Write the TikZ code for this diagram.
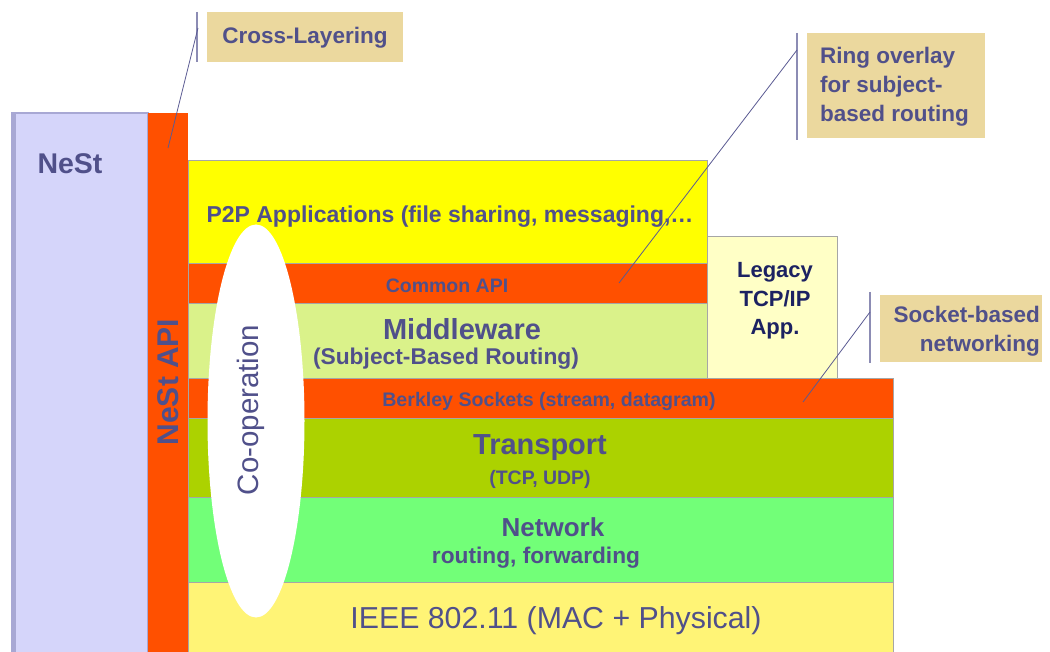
\documentclass[tikz,border=0pt]{standalone}
\usepackage{fontspec}
\setmainfont{Liberation Sans}
\usetikzlibrary{shapes.geometric}
\definecolor{txt}{HTML}{50508A}
\definecolor{legtxt}{HTML}{1C2262}
\definecolor{nestfill}{HTML}{D5D5FA}
\definecolor{nestedge}{HTML}{A8A8D4}
\definecolor{apired}{HTML}{FF5000}
\definecolor{notefill}{HTML}{EBD89E}
\definecolor{p2pfill}{HTML}{FFFF00}
\definecolor{midfill}{HTML}{DAF28A}
\definecolor{legfill}{HTML}{FFFFC6}
\definecolor{trafill}{HTML}{ACD200}
\definecolor{netfill}{HTML}{72FF78}
\definecolor{macfill}{HTML}{FFF476}
\definecolor{leadcol}{HTML}{5A5A92}
\definecolor{barcol}{HTML}{8C8CB4}
\tikzset{
  layer/.style={draw=black!35, line width=0.8pt, anchor=north west, inner sep=0pt, outer sep=0pt},
  notebox/.style={fill=notefill, anchor=north west, inner sep=0pt, outer sep=0pt},
  lbl/.style={text=txt, font=\bfseries\fontsize{22.5}{29}\selectfont, inner sep=0pt, align=center},
  lead/.style={draw=leadcol, line width=0.8pt},
  notebar/.style={draw=barcol, line width=1.5pt},
}
\begin{document}
\begin{tikzpicture}[x=1pt,y=-1pt]
\useasboundingbox (0,0) rectangle (1050,652);
\fill[white] (0,0) rectangle (1050,652);
% NeSt column and NeSt API bar
\node[layer, draw=nestedge, line width=1.2pt, fill=nestfill, minimum width=136pt, minimum height=545pt] (nest) at (12,113) {};
\fill[nestedge] (12,113) rectangle (16,652);
\node[layer, draw=none, fill=apired, minimum width=40pt, minimum height=545pt] (nestapi) at (148,113) {};
% layers
\node[layer, fill=p2pfill, minimum width=519pt, minimum height=103pt] (p2p) at (188,160) {};
\node[layer, fill=apired, minimum width=519pt, minimum height=40pt] (common) at (188,263) {};
\node[layer, fill=midfill, minimum width=519pt, minimum height=78pt] (middle) at (188,303) {};
\node[layer, fill=legfill, minimum width=130pt, minimum height=142pt] (legacy) at (707,236) {};
\node[layer, fill=apired, minimum width=705pt, minimum height=40pt] (berkley) at (188,378) {};
\node[layer, fill=trafill, minimum width=705pt, minimum height=79pt] (transport) at (188,418) {};
\node[layer, fill=netfill, minimum width=705pt, minimum height=85pt] (network) at (188,497) {};
\node[layer, fill=macfill, minimum width=705pt, minimum height=75pt] (mac) at (188,582) {};
% co-operation ellipse
\node[ellipse, fill=white, inner sep=0pt, minimum width=97pt, minimum height=393pt] (coop) at (256,421) {};
% texts
\node[lbl, font=\bfseries\fontsize{28.5}{34}\selectfont] (nestt) at (70,164) {NeSt};
\node[lbl, font=\bfseries\fontsize{30}{36}\selectfont, rotate=90] (nestapit) at (168,382) {NeSt API};
\node[lbl, font=\fontsize{29.5}{34}\selectfont, rotate=90] (coopt) at (251,410) {Co-operation};
\node[lbl, font=\bfseries\fontsize{23}{29}\selectfont] (p2pt) at (450,217) {P2P Applications (file sharing, messaging,…};
\node[lbl, font=\bfseries\fontsize{19.5}{24}\selectfont] (commont) at (447,286) {Common API};
\node[lbl, font=\bfseries\fontsize{29}{34}\selectfont] (midt1) at (462,329) {Middleware};
\node[lbl, font=\bfseries\fontsize{22.8}{28}\selectfont] (midt2) at (446,359) {(Subject-Based Routing)};
\node[lbl, text=legtxt, font=\bfseries\fontsize{22}{28.5}\selectfont] (legt) at (775,301) {Legacy\\TCP/IP\\App.};
\node[lbl, font=\bfseries\fontsize{19.6}{24}\selectfont] (berkt) at (549,401) {Berkley Sockets (stream, datagram)};
\node[lbl, font=\bfseries\fontsize{29}{34}\selectfont] (trat1) at (540,448) {Transport};
\node[lbl, font=\bfseries\fontsize{19.5}{24}\selectfont] (trat2) at (540,479) {(TCP, UDP)};
\node[lbl, font=\bfseries\fontsize{26}{31}\selectfont] (nett1) at (553,527) {Network};
\node[lbl, font=\bfseries\fontsize{22.7}{28}\selectfont] (nett2) at (536,558) {routing, forwarding};
\node[lbl, font=\fontsize{30.3}{36}\selectfont] (mact) at (556,621) {IEEE 802.11 (MAC + Physical)};
% notes
\node[notebox, minimum width=196pt, minimum height=50pt] (cross) at (207,12) {};
\node[lbl] (crosst) at ([yshift=-1pt]cross.center) {Cross-Layering};
\node[notebox, minimum width=178pt, minimum height=105pt] (ring) at (807,33) {};
\node[lbl, align=left, anchor=west] (ringt) at (820,87) {Ring overlay\\for subject-\\based routing};
\node[notebox, minimum width=162pt, minimum height=67pt] (sock) at (880,295) {};
\node[lbl, align=right, anchor=east] (sockt) at (1040,331) {Socket-based\\networking};
% bars beside notes
\draw[notebar] ([xshift=-10pt]cross.north west) -- ([xshift=-10pt]cross.south west);
\draw[notebar] ([xshift=-10pt]ring.north west) -- ([xshift=-10pt,yshift=-2pt]ring.south west);
\draw[notebar] ([xshift=-10pt,yshift=3pt]sock.north west) -- ([xshift=-10pt,yshift=-1pt]sock.south west);
% leader lines
\draw[lead] ([xshift=-9pt,yshift=-16pt]cross.north west) -- ([yshift=-35pt]nestapi.north);
\draw[lead] ([xshift=-10pt,yshift=-17pt]ring.north west) -- ([xshift=-88pt]common.east);
\draw[lead] ([xshift=-10pt,yshift=-17pt]sock.north west) -- ([xshift=-90pt,yshift=-4pt]berkley.east);
\end{tikzpicture}
\end{document}
